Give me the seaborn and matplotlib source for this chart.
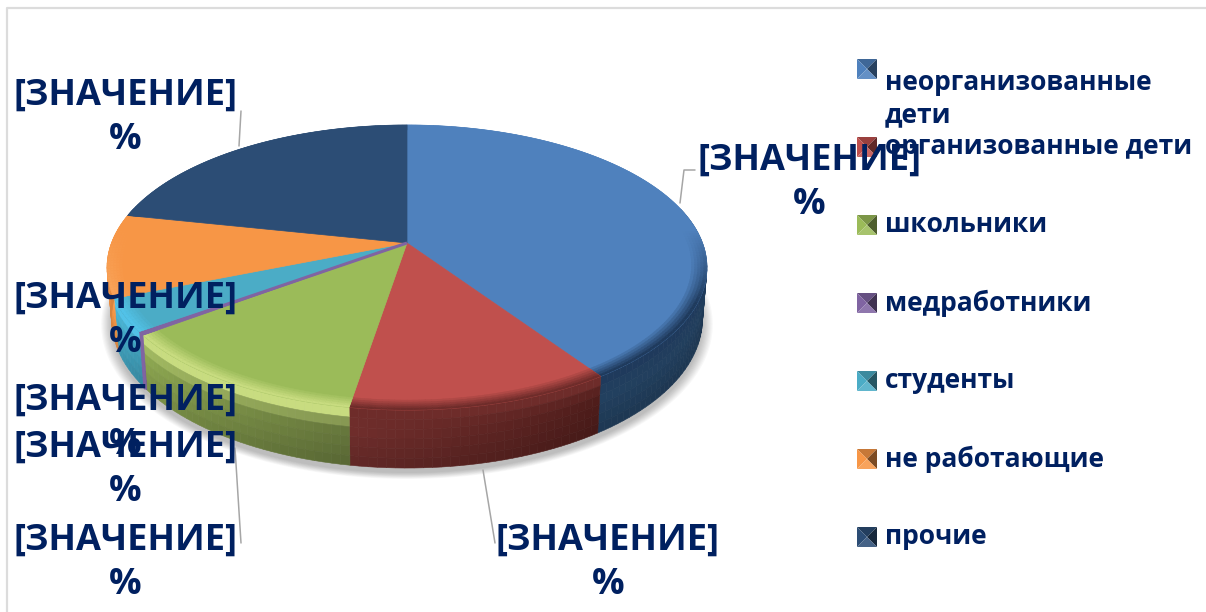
import matplotlib
matplotlib.use('Agg')
import matplotlib.pyplot as plt
import matplotlib.colors as mcolors
import seaborn as sns
import numpy as np

# data (share of pie, %)
categories = ['неорганизованные\nдети', 'организованные дети', 'школьники', 'медработники',
              'студенты', 'не работающие', 'прочие']
values = [40.5, 12.1, 12.2, 0.4, 3.7, 9.4, 21.7]
label_text = '[ЗНАЧЕНИЕ]\n%'

face_colors = ['#4f81bd', '#c0504d', '#9bbb59', '#8064a2', '#4bacc6', '#f79646', '#2c4d75']
rim_colors = ['#1f3a5c', '#6e2c2a', '#c8dc80', '#8064a2', '#52c2e8', '#f9a55c', '#2c4d75']
side_start = ['#1f3854', '#4f1d1b', '#66773c', '#8064a2', '#3f9db8', '#f79646', '#2c4d75']
side_end = ['#22405f', '#702e2c', '#8ea851', '#8064a2', '#45b0cf', '#f79646', '#2c4d75']

# where the data labels sit (centre x, centre y of the block), in slice order
label_pos = [(809, 183), (608, 563), (125, 563), (125, 423), (125, 321), (125, 470), (125, 118)]
leaders = [([680, 684, 695], [203, 170, 170]), ([483, 495], [470, 543]), ([235, 241], [448, 543]),
           ([239, 241], [146, 111])]
legend_y = [69, 147, 225, 303, 381, 459, 537]
text_color = '#002060'

# pie geometry in pixels
cx, cy = 407, 243
a, b, k = 138.3, 295.5, 0.172

sns.set_theme(style='white')
plt.rcParams['font.family'] = ['Open Sans', 'DejaVu Sans']
palette = sns.color_palette(face_colors)


def project(theta, r=1.0, z=0.0):
    # theta clockwise from 12 o'clock, perspective flattening of the disc
    u = r * np.sin(theta)
    v = r * np.cos(theta)
    w = 1 + k * v
    x = cx + b * u / w * (1 - 0.015 * z)
    y = cy - a * v / w + z * (50 + 8 * np.clip(-v, 0, 1))
    return x, y


def mix(c1, c2, t):
    c1 = np.array(mcolors.to_rgb(c1))
    c2 = np.array(mcolors.to_rgb(c2))
    return tuple(c1 + (c2 - c1) * t)


fig, ax = plt.subplots(figsize=(12.06, 6.12), dpi=100)
fig.subplots_adjust(0, 0, 1, 1)
ax.set_xlim(0, 1206)
ax.set_ylim(612, 0)
ax.axis('off')

# frame of the slide
ax.plot([7, 7, 1206], [612, 8, 8], color='#dcdcdc', lw=1.6, zorder=1)

edges = np.radians(np.concatenate([[0], np.cumsum(values)]) / np.sum(values) * 360)

# soft shadow
t_all = np.linspace(0, 2 * np.pi, 240)
for grow in np.linspace(1.035, 1.0, 10):
    sx, sy = project(t_all, 1.0, 1.0)
    ax.fill(cx + (sx - cx) * grow, cy + 55 + (sy - cy - 55) * grow + 5, color='#000000', alpha=0.028, lw=0, zorder=2)

# side wall, gradient along the rim and downward
zs = np.linspace(0, 1, 7)
for i, val in enumerate(values):
    steps = max(2, int(np.degrees(edges[i + 1] - edges[i]) / 1.5))
    t = np.linspace(edges[i], edges[i + 1], steps + 1)
    for j in range(steps):
        if np.cos(t[j]) > 0.25 and np.cos(t[j + 1]) > 0.25:
            continue
        base = mix(side_start[i], side_end[i], j / steps)
        for n in range(len(zs) - 1):
            x0, y0 = project(t[j:j + 2], 1.0, zs[n])
            x1, y1 = project(t[j:j + 2], 1.0, zs[n + 1])
            col = mix(rim_colors[i], base, min(1, n / 1.5)) if n < 2 else mix(base, '#000000', 0.12 * (n - 2) / 3)
            ax.fill([x0[0], x0[1], x1[1], x1[0]], [y0[0], y0[1], y1[1], y1[0]],
                    color=col, lw=0.4, zorder=3)

# top face with a blurred bevel along the front of the rim
for i, val in enumerate(values):
    t = np.linspace(edges[i], edges[i + 1], max(3, int(np.degrees(edges[i + 1] - edges[i]))))
    x, y = project(t)
    ax.fill(np.r_[cx, x], np.r_[cy, y], color=palette[i], lw=0.5, zorder=4)
    rings = np.linspace(0.95, 1.0, 6)
    for n in range(len(rings) - 1):
        for j in range(len(t) - 1):
            weight = np.clip((0.1 - np.cos(t[j])) / 0.5, 0, 1) * (n + 1) / 5
            col = mix(palette[i], rim_colors[i], weight)
            x0, y0 = project(t[j:j + 2], rings[n])
            x1, y1 = project(t[j:j + 2], rings[n + 1])
            ax.fill([x0[0], x0[1], x1[1], x1[0]], [y0[0], y0[1], y1[1], y1[0]], color=col, lw=0.3, zorder=4)

# thin purple slice needs an outline to be seen
mid = (edges[3] + edges[4]) / 2
x, y = project(mid)
ax.plot([cx, x], [cy, y], color=palette[3], lw=2.2, zorder=5, solid_capstyle='butt')
x0, y0 = project(mid, 1.0, 0.0)
x1, y1 = project(mid, 1.0, 1.0)
ax.plot([x0, x1], [y0, y1], color=palette[3], lw=2.2, zorder=5)

# leader lines
for xs, ys in leaders:
    ax.plot(xs, ys, color='#a6a6a6', lw=1.1, zorder=6)

# legend with the pyramid style markers
for i, name in enumerate(categories):
    y0 = legend_y[i]
    x0 = 867
    s = 10
    c = palette[i]
    ax.fill([x0 - s, x0 + s, x0], [y0 - s, y0 - s, y0], color=mix(c, '#000000', 0.2), lw=0, zorder=7)
    ax.fill([x0 - s, x0, x0 - s], [y0 - s, y0, y0 + s], color=c, lw=0, zorder=7)
    ax.fill([x0 + s, x0 + s, x0], [y0 - s, y0 + s, y0], color=mix(c, '#000000', 0.5), lw=0, zorder=7)
    ax.fill([x0 - s, x0 + s, x0], [y0 + s, y0 + s, y0], color=mix(c, '#ffffff', 0.12), lw=0, zorder=7)
    ax.text(885, y0 + 1 - 1, name, ha='left', va='top' if '\n' in name else 'center', fontsize=19, fontweight='bold',
            color=text_color, linespacing=1.25, zorder=8,
            transform=ax.transData)

# data labels
for (lx, ly) in label_pos:
    ax.text(lx, ly, label_text, ha='center', va='center', fontsize=26, fontweight='bold',
            color=text_color, linespacing=1.3, zorder=9)

fig.savefig('out.png', dpi=100)
